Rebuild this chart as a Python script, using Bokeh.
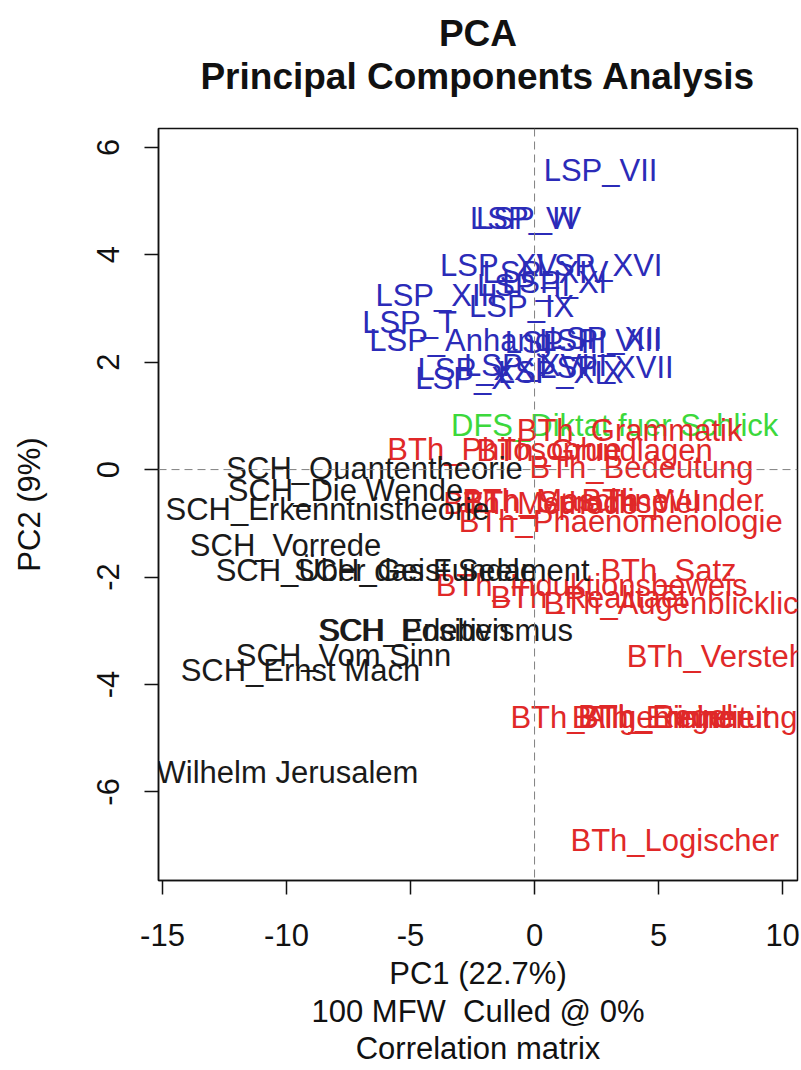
import math
from bokeh.plotting import figure
from bokeh.models import Range1d, FixedTicker, Span, Title, ColumnDataSource
from bokeh.core.properties import value
from bokeh.embed import file_html
from bokeh.resources import INLINE

# ---------------- data ----------------
lsp_labels = ["LSP_VII", "LSP_VI", "LSP_IV", "LSP_XV", "LSP_XVI", "LSP_XIV",
              "LSP_XIII", "LSP_XI", "LSP_II", "LSP_IX", "LSP_T", "LSP_Anhang",
              "LSP_VIII", "LSP_XII", "LSP_III", "LSP_XVII", "LSP_XVIII",
              "LSP_XXI", "LSP_XIX", "LSP_X"]
lsp_pc1 = [2.66, -0.48, -0.24, -1.45, 2.62, 0.44,
           -3.95, 0.81, -0.44, -0.52, -5.04, -2.98,
           2.66, 2.86, 0.85, 2.90, 0.04,
           -2.18, 1.05, -2.86]
lsp_pc2 = [5.57, 4.67, 4.67, 3.80, 3.80, 3.67,
           3.24, 3.48, 3.43, 3.04, 2.74, 2.40,
           2.40, 2.44, 2.37, 1.90, 1.94,
           1.86, 1.81, 1.69]

dfs_labels = ["DFS_Diktat fuer Schlick"]
dfs_pc1 = [3.23]
dfs_pc2 = [0.82]

bth_labels = ["BTh_Grammatik", "BTh_Philosophie", "BTh_Grundlagen", "BTh_Bedeutung",
              "BTh_Methode", "BTh_Sprachspiel", "BTh_Maschine", "BTh_Wunder",
              "BTh_Phaenomenologie", "BTh_Satz", "BTh_Induktionsbeweis",
              "BTh_Realitaet", "BTh_Augenblicklich", "BTh_Verstehen",
              "BTh_Allgemeinheit", "BTh_Regel", "BTh_Einheit", "BTh_Erinnerung",
              "BTh_Logischer"]
bth_pc1 = [3.83, -1.21, 2.42, 4.31,
           0.24, 1.90, 1.25, 5.56,
           3.47, 5.40, 2.30,
           2.18, 5.85, 8.02,
           4.27, 4.88, 5.16, 6.05,
           5.65]
bth_pc2 = [0.73, 0.37, 0.35, 0.04,
           -0.63, -0.61, -0.58, -0.58,
           -0.97, -1.88, -2.16,
           -2.38, -2.50, -3.48,
           -4.62, -4.60, -4.62, -4.62,
           -6.90]

sch_labels = ["SCH_Quantentheorie", "SCH_Die Wende", "SCH_Erkenntnistheorie",
              "SCH_Vorrede", "SCH_Über das Fundament", "SCH_Geist Seele",
              "SCH_Positivismus", "SCH_Erleben", "SCH_Vom Sinn",
              "SCH_Ernst Mach", "Wilhelm Jerusalem"]
sch_pc1 = [-6.45, -7.62, -8.35,
           -10.04, -5.32, -4.80,
           -3.59, -4.84, -7.70,
           -9.44, -9.96]
sch_pc2 = [0.02, -0.39, -0.74,
           -1.42, -1.88, -1.88,
           -3.00, -3.00, -3.46,
           -3.74, -5.64]

x_ticks = [-15, -10, -5, 0, 5, 10]
x_tick_labels = ["-15", "-10", "-5", "0", "5", "10"]
y_ticks = [-6, -4, -2, 0, 2, 4, 6]
y_tick_labels = ["-6", "-4", "-2", "0", "2", "4", "6"]

title_lines = ["PCA", "Principal Components Analysis"]
x_title = "PC1 (22.7%)"
y_title = "PC2 (9%)"
sub_lines = ["100 MFW\u00a0 Culled @ 0%", "Correlation matrix"]

FONT = "Liberation Sans"
INK = "#111111"

# ---------------- figure ----------------
p = figure(width=800, height=1068, output_backend="svg", toolbar_location=None,
           x_range=Range1d(-15.16, 10.60), y_range=Range1d(-7.65, 6.35),
           min_border_left=158, min_border_right=3, min_border_top=128,
           min_border_bottom=188)
p.background_fill_color = "white"
p.border_fill_color = "white"
p.outline_line_color = INK
p.outline_line_width = 1.5
p.grid.visible = False

for ax in (p.xaxis[0], p.yaxis[0]):
    ax.axis_line_color = INK
    ax.axis_line_width = 1.5
    ax.major_tick_line_color = INK
    ax.major_tick_line_width = 1.5
    ax.major_tick_out = 14
    ax.major_tick_in = 0
    ax.minor_tick_line_color = None
    ax.major_label_text_font = FONT
    ax.major_label_text_font_size = "31px"
    ax.major_label_text_color = INK
    ax.axis_label_text_font = FONT
    ax.axis_label_text_font_size = "31px"
    ax.axis_label_text_font_style = "normal"
    ax.axis_label_text_color = INK

p.xaxis.ticker = FixedTicker(ticks=x_ticks)
p.yaxis.ticker = FixedTicker(ticks=y_ticks)
p.xaxis.major_label_overrides = dict(zip(x_ticks, x_tick_labels))
p.yaxis.major_label_overrides = dict(zip(y_ticks, y_tick_labels))
p.xaxis.major_label_standoff = 29
p.yaxis.major_label_standoff = 25
p.yaxis.major_label_orientation = "parallel"
p.xaxis.axis_label = x_title
p.xaxis.axis_label_standoff = 7
p.yaxis.axis_label = y_title
p.yaxis.axis_label_standoff = 48

# zero lines
p.add_layout(Span(location=0, dimension="height", line_color="#808080",
                  line_dash="8 5", line_width=1))
p.add_layout(Span(location=0, dimension="width", line_color="#808080",
                  line_dash="8 5", line_width=1))

# labels as glyphs
groups = [
    (lsp_labels, lsp_pc1, lsp_pc2, "#2B2BB8"),
    (dfs_labels, dfs_pc1, dfs_pc2, "#3CD83C"),
    (bth_labels, bth_pc1, bth_pc2, "#E02828"),
    (sch_labels, sch_pc1, sch_pc2, "#1A1A1A"),
]
for labs, xs, ys, col in groups:
    src = ColumnDataSource(dict(x=xs, y=ys, t=labs))
    p.text(x="x", y="y", text="t", source=src, text_color=col,
           text_font=value(FONT), text_font_size="31px",
           text_align="center", text_baseline="middle")

# spacer between frame and the two title lines (first added sits closest to frame)
p.add_layout(Title(text="\u00a0", text_font=FONT, text_font_size="2px",
                   align="center", standoff=28), "above")
p.add_layout(Title(text=title_lines[1], text_font=FONT, text_font_size="37px",
                   text_font_style="bold", align="center", text_color=INK,
                   standoff=0), "above")
p.add_layout(Title(text=title_lines[0], text_font=FONT, text_font_size="37px",
                   text_font_style="bold", align="center", text_color=INK,
                   standoff=0), "above")

# lines under the x axis title
p.add_layout(Title(text=sub_lines[0], text_font=FONT, text_font_size="31px",
                   text_font_style="normal", align="center", text_color=INK,
                   vertical_align="top", standoff=0), "below")
p.add_layout(Title(text=sub_lines[1], text_font=FONT, text_font_size="31px",
                   text_font_style="normal", align="center", text_color=INK,
                   vertical_align="top", standoff=0), "below")

open("out.html", "w").write(file_html(p, INLINE))
